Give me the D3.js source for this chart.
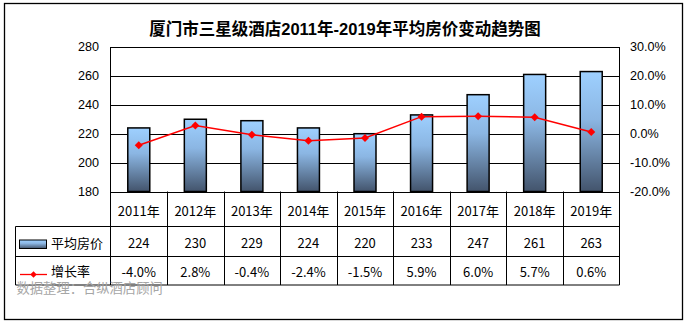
<!DOCTYPE html>
<html><head><meta charset="utf-8">
<script src="https://cdn.jsdelivr.net/npm/d3@7/dist/d3.min.js"></script>
<style>
html,body{margin:0;padding:0;background:#fff;}
svg{display:block;}
</style></head>
<body>
<svg id="c" width="687" height="325"></svg>
<script>
const title = "厦门市三星级酒店2011年-2019年平均房价变动趋势图";
const categories = ["2011年","2012年","2013年","2014年","2015年","2016年","2017年","2018年","2019年"];
const priceValues = [224,230,229,224,220,233,247,261,263];
const growthValues = [-4.0,2.8,-0.4,-2.4,-1.5,5.9,6.0,5.7,0.6];
const growthLabels = ["-4.0%","2.8%","-0.4%","-2.4%","-1.5%","5.9%","6.0%","5.7%","0.6%"];
const leftTicks = [180,200,220,240,260,280];
const rightTicks = [-20,-10,0,10,20,30];
const seriesNames = ["平均房价","增长率"];
const sourceNote = "数据整理：合纵酒店顾问";

const svg = d3.select("#c");
const plotL = 110.5, plotR = 619.5, plotT = 47, plotB = 191.5;
const row1B = 226.5, row2B = 256.5, row3B = 285;
const tableL = 15.5;

const x = d3.scaleBand().domain(categories).range([plotL, plotR]).padding(0);
const yL = d3.scaleLinear().domain([180,280]).range([plotB, plotT]);
const yR = d3.scaleLinear().domain([-20,30]).range([plotB, plotT]);

// outer border
svg.append("rect").attr("x",4.5).attr("y",3.5).attr("width",678).attr("height",316)
  .attr("fill","#fff").attr("stroke","#000").attr("stroke-width",1.3);

// title
svg.append("text").attr("x",345).attr("y",29).attr("text-anchor","middle")
  .attr("dominant-baseline","central")
  .attr("font-family","'Liberation Sans','Noto Sans CJK SC',sans-serif")
  .attr("font-weight","bold").attr("font-size",16.5).attr("fill","#000").text(title);

// gradient (per bar)
const defs = svg.append("defs");
const g = defs.append("linearGradient").attr("id","bg").attr("x1",0).attr("y1",0).attr("x2",0).attr("y2",1);
g.append("stop").attr("offset","0%").attr("stop-color","#9ed0ff");
g.append("stop").attr("offset","40%").attr("stop-color","#8bb6e3");
g.append("stop").attr("offset","100%").attr("stop-color","#43546c");

// gridlines
svg.append("g").selectAll("line").data(leftTicks).join("line")
  .attr("x1",plotL).attr("x2",plotR).attr("y1",d=>Math.round(yL(d))+0.5).attr("y2",d=>Math.round(yL(d))+0.5)
  .attr("stroke","#000").attr("stroke-width",1);

// axis lines
svg.append("line").attr("x1",plotL).attr("x2",plotL).attr("y1",plotT).attr("y2",row3B).attr("stroke","#000");
svg.append("line").attr("x1",plotR).attr("x2",plotR).attr("y1",plotT).attr("y2",row3B).attr("stroke","#000");

// bars
const bw = 22;
svg.append("g").selectAll("rect").data(priceValues).join("rect")
  .attr("x",(d,i)=>x(categories[i])+x.bandwidth()/2-bw/2)
  .attr("y",d=>yL(d))
  .attr("width",bw).attr("height",d=>plotB-yL(d))
  .attr("fill","url(#bg)").attr("stroke","#000").attr("stroke-width",1.5);

// left axis labels
svg.append("g").selectAll("text").data(leftTicks).join("text")
  .attr("x",99).attr("y",d=>yL(d)).attr("text-anchor","end").attr("dominant-baseline","central")
  .attr("font-family","'Liberation Sans',Arial,sans-serif").attr("font-size",12.6).attr("fill","#000")
  .text(d=>d);
// right axis labels
svg.append("g").selectAll("text").data(rightTicks).join("text")
  .attr("x",630).attr("y",d=>yR(d)).attr("text-anchor","start").attr("dominant-baseline","central")
  .attr("font-family","'Liberation Sans',Arial,sans-serif").attr("font-size",12.6).attr("fill","#000")
  .text(d=>d.toFixed(1)+"%");

// line
const diamond = s => `M0,${-s}L${s},0L0,${s}L${-s},0Z`;
const line = d3.line().x((d,i)=>x(categories[i])+x.bandwidth()/2).y(d=>yR(d));
svg.append("path").attr("d",line(growthValues)).attr("fill","none").attr("stroke","#ff0000").attr("stroke-width",1.5);
svg.append("g").selectAll("path").data(growthValues).join("path")
  .attr("transform",(d,i)=>`translate(${x(categories[i])+x.bandwidth()/2},${yR(d)})`)
  .attr("d",diamond(4)).attr("fill","#ff0000");

// table lines
const tl = svg.append("g").attr("stroke","#000").attr("stroke-width",1);
tl.append("line").attr("x1",tableL).attr("x2",plotR).attr("y1",row1B).attr("y2",row1B);
tl.append("line").attr("x1",tableL).attr("x2",plotR).attr("y1",row2B).attr("y2",row2B);
tl.append("line").attr("x1",tableL).attr("x2",plotR).attr("y1",row3B).attr("y2",row3B);
tl.append("line").attr("x1",tableL).attr("x2",tableL).attr("y1",row1B).attr("y2",row3B);
tl.selectAll("line.v").data(categories.slice(1)).join("line").attr("class","v")
  .attr("x1",d=>Math.round(x(d))+0.5).attr("x2",d=>Math.round(x(d))+0.5).attr("y1",plotB).attr("y2",row3B);

const tf = "'Noto Sans CJK SC','Noto Sans',sans-serif";
const cx = d => x(d)+x.bandwidth()/2;
svg.append("g").selectAll("text").data(categories).join("text")
  .attr("x",d=>cx(d)).attr("y",(plotB+row1B)/2+1).attr("text-anchor","middle").attr("dominant-baseline","central")
  .attr("font-family",tf).attr("font-size",13).attr("fill","#000").text(d=>d);
svg.append("g").selectAll("text").data(priceValues).join("text")
  .attr("x",(d,i)=>cx(categories[i])).attr("y",(row1B+row2B)/2+1).attr("text-anchor","middle").attr("dominant-baseline","central")
  .attr("font-family",tf).attr("font-size",13).attr("fill","#000").text(d=>d);
svg.append("g").selectAll("text").data(growthLabels).join("text")
  .attr("x",(d,i)=>cx(categories[i])).attr("y",(row2B+row3B)/2+1).attr("text-anchor","middle").attr("dominant-baseline","central")
  .attr("font-family",tf).attr("font-size",13).attr("fill","#000").text(d=>d);

// legend keys
svg.append("rect").attr("x",19.5).attr("y",240).attr("width",27).attr("height",8.5)
  .attr("fill","url(#bg)").attr("stroke","#000").attr("stroke-width",1);
svg.append("text").attr("x",51).attr("y",(row1B+row2B)/2+1).attr("dominant-baseline","central")
  .attr("font-family",tf).attr("font-size",13).attr("fill","#000").text(seriesNames[0]);
svg.append("line").attr("x1",20).attr("x2",47).attr("y1",274.5).attr("y2",274.5).attr("stroke","#ff0000").attr("stroke-width",1.3);
svg.append("path").attr("transform","translate(33.5,274.5)").attr("d",diamond(3.2)).attr("fill","#ff0000");
svg.append("text").attr("x",51).attr("y",(row2B+row3B)/2).attr("dominant-baseline","central")
  .attr("font-family",tf).attr("font-size",13).attr("fill","#000").text(seriesNames[1]);

// source note
svg.append("text").attr("x",16.5).attr("y",287).attr("dominant-baseline","central")
  .attr("font-family",tf).attr("font-size",13.3).attr("fill","#a6a6a6").text(sourceNote);
</script>
</body></html>
